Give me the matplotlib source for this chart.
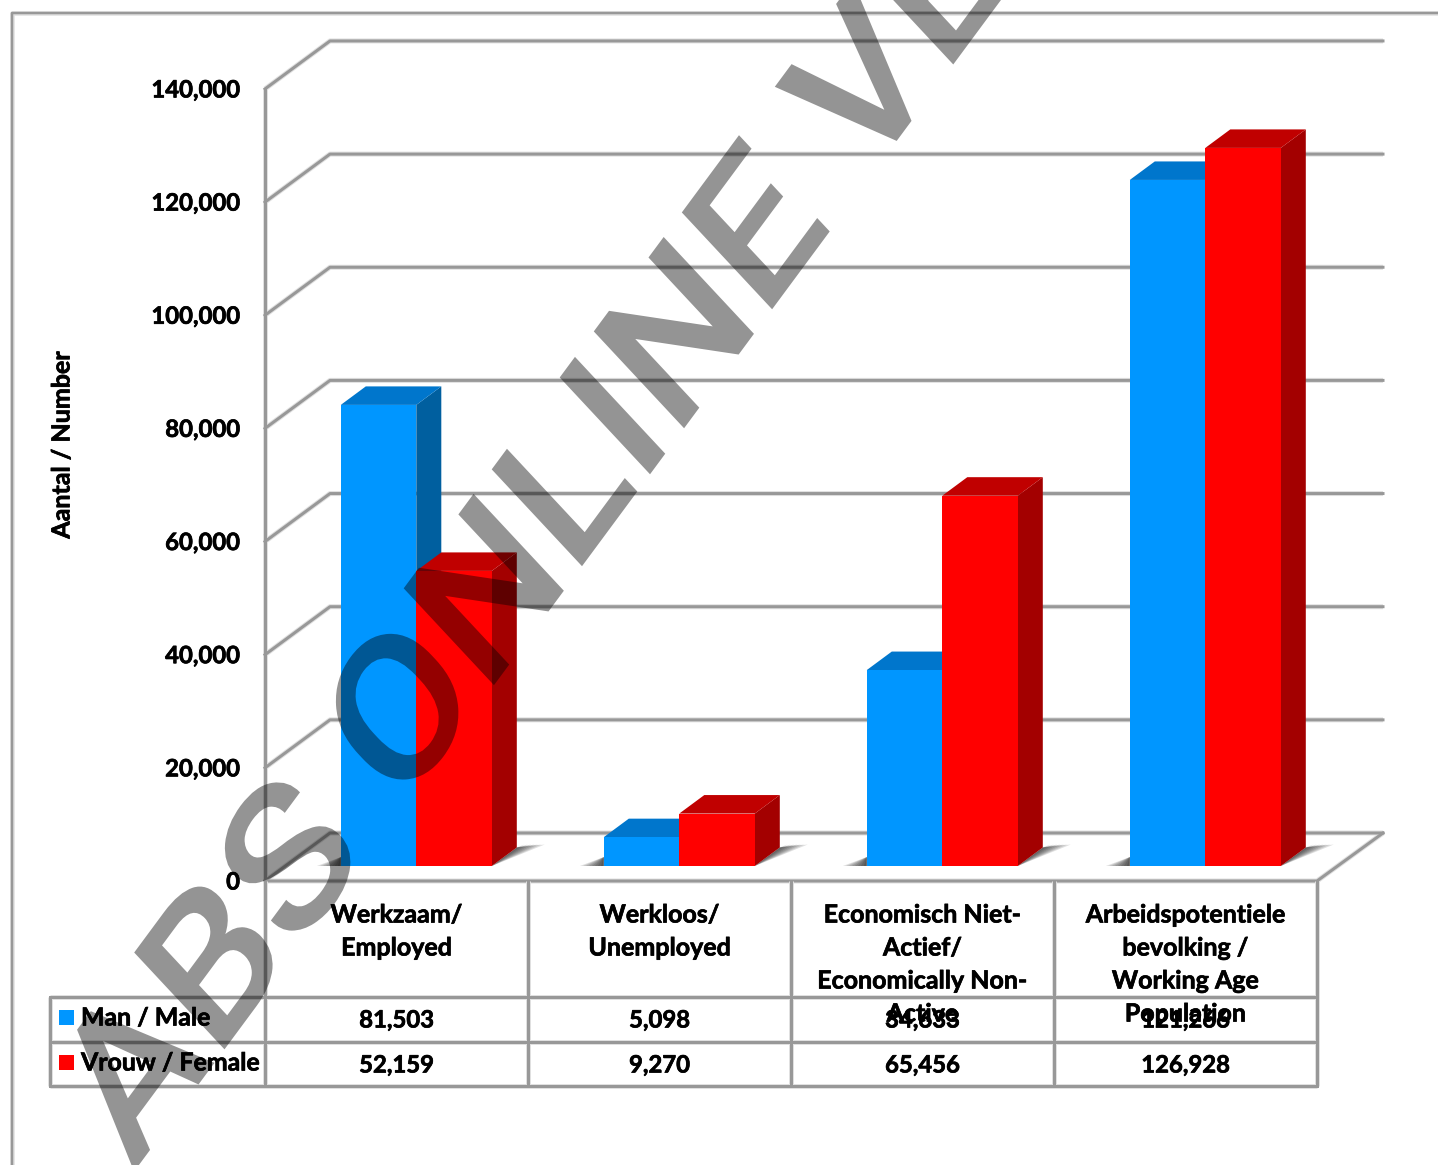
# plot.py
import matplotlib
matplotlib.use("Agg")
import matplotlib.pyplot as plt
import matplotlib.patheffects as pe
from matplotlib.font_manager import FontProperties
from matplotlib.patches import PathPatch, Polygon
from matplotlib.path import Path
from matplotlib.textpath import TextPath
from matplotlib.transforms import Affine2D
import numpy as np

plt.rcParams["font.family"] = ["Lato", "DejaVu Sans"]

W, H = 1438, 1165

categories = [
    "Werkzaam/\nEmployed",
    "Werkloos/\nUnemployed",
    "Economisch Niet-\nActief/\nEconomically Non-\nActive",
    "Arbeidspotentiele\nbevolking /\nWorking Age\nPopulation",
]
man = [81503, 5098, 34633, 121266]
vrouw = [52159, 9270, 65456, 126928]
series_names = ["Man / Male", "Vrouw / Female"]
yticks = [0, 20000, 40000, 60000, 80000, 100000, 120000, 140000]

# 1 category = 263 px, 20000 = 113.15 px
CX = 1 / 263
CY = 20000 / 113.15

fig = plt.figure(figsize=(W / 100, H / 100), dpi=100)
ax = fig.add_axes([265 / W, (H - 866) / H, 1052 / W, 792.05 / H])
ax.set_xlim(0, 4)
ax.set_ylim(0, 140000)
ax.axis("off")

# transform for plain pixel positions (y down) for the frame and table
px = Affine2D().scale(1, -1).translate(0, H)

LINE = "#989898"
BOLDER = [pe.withStroke(linewidth=0.5, foreground="black")]


def line(xs, ys, transform=None, lw=3, z=1):
    tr = px if transform is None else transform
    ax.plot(xs, ys, color="#e0e0e0", lw=(lw + 2) * 0.72, transform=tr, clip_on=False,
            zorder=z - 0.1, solid_capstyle="butt")
    ax.plot(xs, ys, color=LINE, lw=lw * 0.72, transform=tr, clip_on=False, zorder=z,
            solid_capstyle="projecting")


def label(x, y, s, size, ha="center", rotation=0):
    ax.text(x, y, s, transform=px, ha=ha, va="center", fontsize=size, rotation=rotation,
            fontweight="bold", color="black", zorder=7, path_effects=BOLDER)


# outer frame
line([12, 12, W + 5], [H + 5, 13, 13], lw=2.5)

# walls and gridlines
floor = 15 * CY
back_x = 65 * CX
back_y = 48 * CY
right_x = 1383 * CX - 265 * CX
for t in yticks:
    y0 = t - floor
    line([0, back_x, right_x], [y0, y0 + back_y, y0 + back_y], transform=ax.transData)
    ax.text(-25 * CX, y0 - 1 * CY, f"{t:,}", ha="right", va="center", fontsize=17.2,
            fontweight="bold", color="black", clip_on=False, zorder=6, path_effects=BOLDER)
line([0, 0], [-floor, yticks[-1] - floor], transform=ax.transData)
# floor front edges
line([0, 4.0, right_x], [-floor, -floor, -floor + back_y], transform=ax.transData)

label(62, 445, "Aantal / Number", 18, rotation=90)

# bars
bw = 75.5 * CX
dx = 25 * CX
dy = 18.5 * CY
offset = 19.8 * CX
colors = [("#0096ff", "#0076cc", "#005f9f"), ("#ff0000", "#c00000", "#a30000")]

for i in range(len(categories)):
    xc = i + 0.5 + offset
    x0, x1 = xc - bw, xc + bw
    # soft shadow on the floor, stacked wedges left and right of the bar pair
    for k in range(8):
        reach = (24 - 3 * k) * CX
        ax.add_patch(Polygon([(x0, 0), (x0 - reach, 0), (x0, 9 * CY)], facecolor="black",
                             alpha=0.12, edgecolor="none", zorder=2, clip_on=False))
        reach = (28 - 3.4 * k) * CX
        ax.add_patch(Polygon([(x1, 0), (x1 + dx, dy), (x1 + dx + reach, dy + 3 * CY)],
                             facecolor="black", alpha=0.12, edgecolor="none", zorder=2,
                             clip_on=False))
    for j, v in enumerate([man[i], vrouw[i]]):
        left = xc - bw + j * bw
        front, top, side = colors[j]
        ax.add_patch(Polygon([(left + bw, 0), (left + bw + dx, dy), (left + bw + dx, v + dy), (left + bw, v)],
                             facecolor=side, edgecolor="none", zorder=3 + j, clip_on=False))
        ax.add_patch(Polygon([(left, v), (left + dx, v + dy), (left + bw + dx, v + dy), (left + bw, v)],
                             facecolor=top, edgecolor="none", zorder=3 + j, clip_on=False))
        ax.bar(left, v, width=bw, align="edge", color=front, zorder=3.5 + j, clip_on=False)

# table
for y in [997, 1042, 1086]:
    line([50, 1317], [y, y], z=5)
for x, y0 in [(50, 997), (265, 881), (528, 881), (791, 881), (1054, 881), (1317, 881)]:
    line([x, x], [y0, 1086], z=5)

for i, cat in enumerate(categories):
    xt = 265 + 263 * (i + 0.5)
    for n, part in enumerate(cat.split("\n")):
        label(xt, 915 + 33 * n, part, 18)
    label(xt, 1020, f"{man[i]:,}", 17.2)
    label(xt, 1065, f"{vrouw[i]:,}", 17.2)

for name, yc, c in zip(series_names, [1017, 1062], ["#0096ff", "#ff0000"]):
    ax.add_patch(Polygon([(59, yc - 7), (74, yc - 7), (74, yc + 8), (59, yc + 8)],
                         facecolor=c, edgecolor="none", transform=px, zorder=7, clip_on=False))
    label(81, yc + 1, name, 17.9, ha="left")

# watermark, skewed text path drawn in pixel space
tp = TextPath((0, 0), "ABS ONLINE VERSION", size=192,
              prop=FontProperties(family="Roboto", weight="medium"))
a_base = np.deg2rad(53.5)
a_up = np.deg2rad(133)
stretch = 1.085
skew = Affine2D.from_values(stretch * np.cos(a_base), stretch * np.sin(a_base),
                            0.97 * np.cos(a_up), 0.97 * np.sin(a_up),
                            133, -8)
mark = PathPatch(Path(tp.vertices, tp.codes), facecolor="black", edgecolor="none",
                 alpha=0.42, transform=skew, zorder=20, clip_on=False)
ax.add_patch(mark)

fig.savefig("out.png", dpi=100)
